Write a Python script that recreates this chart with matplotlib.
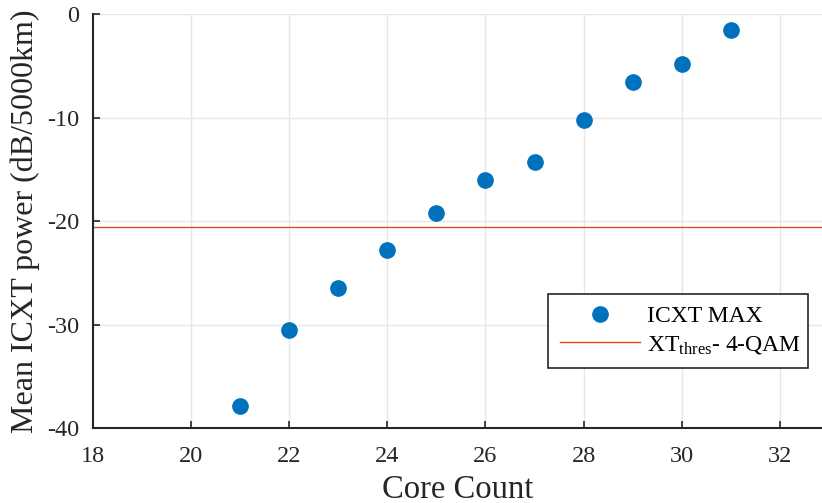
import matplotlib
matplotlib.use("Agg")
import matplotlib.pyplot as plt

core_count = [21, 22, 23, 24, 25, 26, 27, 28, 29, 30, 31]
icxt_max = [-37.9, -30.5, -26.5, -22.8, -19.2, -16.0, -14.3, -10.2, -6.6, -4.8, -1.5]
xt_thres_4qam = -20.6
x_ticks = [18, 20, 22, 24, 26, 28, 30, 32]
y_ticks = [-40, -30, -20, -10, 0]

plt.rcParams['font.family'] = ['Liberation Serif', 'DejaVu Serif']
plt.rcParams['mathtext.fontset'] = 'custom'
plt.rcParams['mathtext.rm'] = 'Liberation Serif'
plt.rcParams['mathtext.it'] = 'Liberation Serif:italic'
plt.rcParams['axes.unicode_minus'] = False

fig = plt.figure(figsize=(8.22, 5.03), dpi=100)
ax = fig.add_axes([93/822, 1-428/503, 1-93/822, (428-14)/503])

ax.plot(core_count, icxt_max, 'o', color='#0072BD', markersize=11, label='ICXT MAX', zorder=3)
ax.axhline(xt_thres_4qam, color='#D95319', linewidth=1.0, label=r'XT$_{\mathrm{thres}}$- 4-QAM', zorder=2)

ax.set_xlim(18, 32.86)
ax.set_ylim(-40, 0)
ax.set_xticks(x_ticks)
ax.set_yticks(y_ticks)
ax.grid(True, color='#e6e6e6', linewidth=1.0)
ax.set_axisbelow(True)
for s in ['top', 'right']:
    ax.spines[s].set_visible(False)
for s in ['left', 'bottom']:
    ax.spines[s].set_linewidth(1.5)
    ax.spines[s].set_color('#262626')
ax.tick_params(direction='in', length=5, width=1.2, labelsize=17.5, colors='#262626')
ax.tick_params(axis='x', pad=13)
ax.tick_params(axis='y', pad=10)
ax.set_xlabel('Core Count', fontsize=23.5, color='#262626', labelpad=5)
ax.set_ylabel('Mean ICXT power (dB/5000km)', fontsize=23, color='#262626', labelpad=5)

leg = ax.legend(loc='lower left', bbox_to_anchor=(548/822, 1-368/503, (808-548)/822, (368-294)/503),
                bbox_transform=fig.transFigure, mode='expand', fontsize=17, frameon=True,
                fancybox=False, edgecolor='#262626', framealpha=1, handlelength=3.4,
                borderaxespad=0, borderpad=0.5, labelspacing=0.3, handletextpad=0.3)
leg.get_frame().set_linewidth(1.2)

fig.savefig('out.png', dpi=100)
